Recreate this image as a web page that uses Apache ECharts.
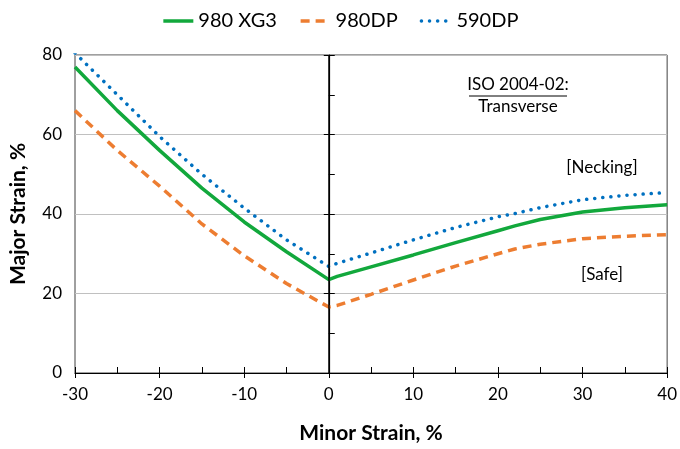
<!DOCTYPE html>
<html>
<head>
<meta charset="UTF-8">
<title>Forming limit curves</title>
<script src="https://cdn.jsdelivr.net/npm/echarts@6/dist/echarts.min.js"></script>
<style>
	html, body { margin: 0; padding: 0; background: #fff; }
	#chart { width: 680px; height: 449px; }
</style>
</head>
<body>
	<div id="chart"></div>
<script type="text/javascript">
	// minor strain positions (%), shared by the three curves
	var minorStrain = [-30, -25, -20, -15, -10, -5, 0, 1, 5, 10, 15, 20, 22, 25, 30, 35, 40];
	// major strain (%)
	var xg3 = [77, 66, 56, 46.5, 38, 30.5, 23.5, 24.3, 26.7, 29.7, 32.8, 35.8, 37, 38.6, 40.5, 41.6, 42.3];
	var dp980 = [66, 56, 47, 37.5, 29.5, 22.5, 16.6, 17, 19.8, 23.4, 26.9, 30, 31.2, 32.4, 33.8, 34.4, 34.8];
	var dp590 = [80.5, 70, 59.5, 50, 41.5, 33.5, 26.8, 27.6, 30.2, 33.5, 36.6, 39.3, 40.1, 41.6, 43.6, 44.7, 45.4];
	var seriesNames = ['980 XG3', '980DP', '590DP'];

	function pairs(ys) {
		var out = [];
		for (var i = 0; i < minorStrain.length; i++) {
			out.push([minorStrain[i], ys[i]]);
		}
		return out;
	}

	var font = 'Lato, "Open Sans", sans-serif';
	var myChart = echarts.init(document.getElementById('chart'));

	function note(txt, x, y) {
		return {
			type: 'text', x: x, y: y,
			style: { text: txt, align: 'center', verticalAlign: 'middle', fill: '#000', font: '17px ' + font }
		};
	}

	var option = {
		animation: false,
		textStyle: { fontFamily: font },
		legend: {
			top: 6,
			left: 'center',
			itemWidth: 30,
			itemHeight: 14,
			itemGap: 22,
			itemStyle: { opacity: 0 },
			lineStyle: { width: 3.5 },
			textStyle: { fontSize: 20, color: '#000', fontFamily: font },
			data: seriesNames
		},
		grid: {
			left: 75, right: 10, top: 55, bottom: 68,
			show: true,
			borderColor: '#404040',
			borderWidth: 1
		},
		xAxis: [{
			type: 'value',
			min: -30, max: 40, interval: 10,
			name: 'Minor Strain, %',
			nameLocation: 'middle',
			nameGap: 50,
			nameTextStyle: { fontSize: 21, fontWeight: 'bold', color: '#000', fontFamily: font },
			axisLine: { lineStyle: { color: '#000', width: 1.2 } },
			axisTick: { show: true, inside: false, length: 5, lineStyle: { color: '#000' } },
			axisLabel: { fontSize: 17, color: '#000', margin: 13, fontFamily: font },
			splitLine: { show: false }
		}, {
			type: 'value',
			position: 'bottom',
			min: -30, max: 40, interval: 5,
			axisLine: { show: false },
			axisTick: { show: true, inside: true, length: 6, lineStyle: { color: '#000' } },
			axisLabel: { show: false },
			splitLine: { show: false }
		}],
		yAxis: [{
			type: 'value',
			min: 0, max: 80, interval: 20,
			name: 'Major Strain, %',
			nameLocation: 'middle',
			nameGap: 46,
			nameTextStyle: { fontSize: 21, fontWeight: 'bold', color: '#000', fontFamily: font },
			axisLine: { show: true, lineStyle: { color: '#000', width: 1.2 } },
			axisTick: { show: true, inside: false, length: 5, lineStyle: { color: '#000' } },
			axisLabel: { fontSize: 17, color: '#000', margin: 13, fontFamily: font },
			splitLine: { show: true, lineStyle: { color: '#c0c0c0', width: 1.2 } }
		}, {
			type: 'value',
			position: 'left',
			min: 0, max: 80, interval: 10,
			axisLine: { show: false },
			axisTick: { show: true, inside: true, length: 6, lineStyle: { color: '#000' } },
			axisLabel: { show: false },
			splitLine: { show: false }
		}],
		series: [{
			name: seriesNames[0],
			type: 'line',
			data: pairs(xg3),
			symbol: 'none',
			clip: true,
			z: 4,
			lineStyle: { color: '#12a83c', width: 3.5 },
			itemStyle: { color: '#12a83c' },
			markLine: {
				silent: true,
				symbol: 'none',
				label: { show: false },
				lineStyle: { color: '#000', width: 1.5, type: 'solid' },
				data: [{ xAxis: 0 }]
			}
		}, {
			name: seriesNames[1],
			type: 'line',
			data: pairs(dp980),
			symbol: 'none',
			clip: true,
			z: 3,
			lineStyle: { color: '#ed7d31', width: 3.5, type: [9, 6] },
			itemStyle: { color: '#ed7d31' }
		}, {
			name: seriesNames[2],
			type: 'line',
			data: pairs(dp590),
			symbol: 'none',
			clip: true,
			z: 3,
			lineStyle: { color: '#0070c0', width: 3.5, type: [0.1, 8], cap: 'round' },
			itemStyle: { color: '#0070c0' }
		}],
		graphic: [
			note('ISO 2004-02:', 518, 85),
			{
				type: 'line',
				shape: { x1: 469, y1: 96, x2: 567, y2: 96 },
				style: { stroke: '#000', lineWidth: 1 }
			},
			note('Transverse', 518, 107),
			note('[Necking]', 602, 168),
			note('[Safe]', 602, 275)
		]
	};

	myChart.setOption(option);
</script>
</body>
</html>
